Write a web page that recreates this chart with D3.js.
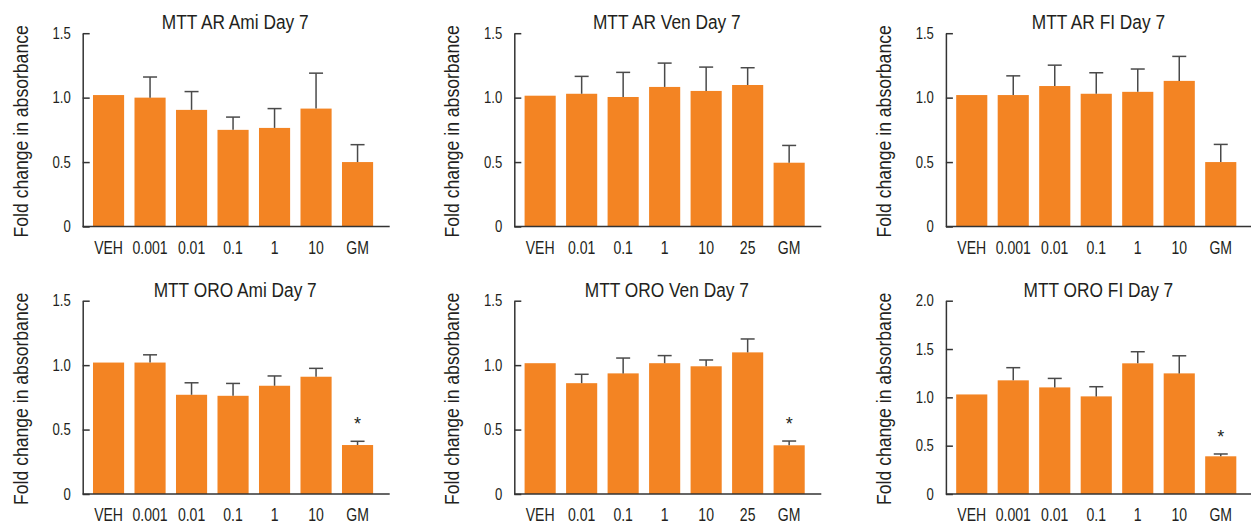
<!DOCTYPE html>
<html>
<head>
<meta charset="utf-8">
<script src="https://cdn.jsdelivr.net/npm/d3@7"></script>
<style>
  html, body { margin: 0; padding: 0; background: #fff; }
  svg { display: block; }
  text { font-family: "Liberation Sans", Arial, sans-serif; fill: #231f20; }
</style>
</head>
<body>
<svg id="chart" width="1251" height="524"></svg>
<script>
// ---- Data ----
const catsAmi = ["VEH", "0.001", "0.01", "0.1", "1", "10", "GM"];
const catsVen = ["VEH", "0.01", "0.1", "1", "10", "25", "GM"];
const catsFl  = ["VEH", "0.001", "0.01", "0.1", "1", "10", "GM"];

const titles = ["MTT AR Ami Day 7", "MTT AR Ven Day 7", "MTT AR FI Day 7",
                "MTT ORO Ami Day 7", "MTT ORO Ven Day 7", "MTT ORO FI Day 7"];

// mean values
const arAmiMean  = [1.02, 1.00, 0.905, 0.75, 0.765, 0.915, 0.50];
const arVenMean  = [1.015, 1.03, 1.005, 1.083, 1.052, 1.098, 0.495];
const arFlMean   = [1.02, 1.02, 1.09, 1.03, 1.045, 1.13, 0.50];
const oroAmiMean = [1.02, 1.02, 0.77, 0.762, 0.84, 0.91, 0.38];
const oroVenMean = [1.015, 0.86, 0.936, 1.015, 0.991, 1.099, 0.378];
const oroFlMean  = [1.03, 1.176, 1.103, 1.01, 1.352, 1.248, 0.39];

// upper end of error bars (null = no error bar)
const arAmiErr  = [null, 1.16, 1.047, 0.849, 0.915, 1.19, 0.635];
const arVenErr  = [null, 1.165, 1.196, 1.268, 1.237, 1.232, 0.629];
const arFlErr   = [null, 1.169, 1.252, 1.193, 1.222, 1.32, 0.637];
const oroAmiErr = [null, 1.08, 0.863, 0.858, 0.916, 0.975, 0.409];
const oroVenErr = [null, 0.929, 1.055, 1.074, 1.04, 1.203, 0.411];
const oroFlErr  = [null, 1.307, 1.196, 1.11, 1.472, 1.43, 0.414];

// significance markers
const oroAmiSig = ["", "", "", "", "", "", "*"];
const oroVenSig = ["", "", "", "", "", "", "*"];
const oroFlSig  = ["", "", "", "", "", "", "*"];
const noSig     = ["", "", "", "", "", "", ""];

const ticks15 = [0, 0.5, 1.0, 1.5];
const ticks20 = [0, 0.5, 1.0, 1.5, 2.0];

const yLabel = "Fold change in absorbance";

const panels = [
  {title: titles[0], cats: catsAmi, mean: arAmiMean, err: arAmiErr, sig: noSig, max: 1.5, ticks: ticks15},
  {title: titles[1], cats: catsVen, mean: arVenMean, err: arVenErr, sig: noSig, max: 1.5, ticks: ticks15},
  {title: titles[2], cats: catsFl,  mean: arFlMean,  err: arFlErr,  sig: noSig, max: 1.5, ticks: ticks15},
  {title: titles[3], cats: catsAmi, mean: oroAmiMean, err: oroAmiErr, sig: oroAmiSig, max: 1.5, ticks: ticks15},
  {title: titles[4], cats: catsVen, mean: oroVenMean, err: oroVenErr, sig: oroVenSig, max: 1.5, ticks: ticks15},
  {title: titles[5], cats: catsFl,  mean: oroFlMean,  err: oroFlErr,  sig: oroFlSig,  max: 2.0, ticks: ticks20}
];

// ---- Layout ----
const barColor = "#f38423";
const errColor = "#4a4a4a";
const axisColor = "#333";
const colX0 = 82.7, colStep = 431.6;
const rowZero = [226.5, 494.0];
const rowTop  = [33.2, 300.7];
const axisLen = 307;

// condensed look: squeeze glyphs horizontally
function condense(sel, f) {
  sel.each(function () {
    const L = this.getComputedTextLength();
    this.setAttribute("textLength", (L * f).toFixed(2));
    this.setAttribute("lengthAdjust", "spacingAndGlyphs");
  });
}

const svg = d3.select("#chart");

panels.forEach((p, i) => {
  const col = i % 3, row = Math.floor(i / 3);
  const ax = colX0 + col * colStep;
  const g = svg.append("g");

  const x = d3.scaleBand()
    .domain(p.cats)
    .range([ax + 5.1, ax + 5.1 + 290.5])
    .paddingInner(0.25)
    .paddingOuter(0.125);

  const y = d3.scaleLinear()
    .domain([0, p.max])
    .range([rowZero[row], rowTop[row]]);

  // bars
  g.selectAll("rect.bar")
    .data(p.cats)
    .join("rect")
    .attr("class", "bar")
    .attr("x", d => x(d))
    .attr("width", x.bandwidth())
    .attr("y", (d, j) => y(p.mean[j]))
    .attr("height", (d, j) => y(0) - y(p.mean[j]))
    .attr("fill", barColor);

  // error bars
  const errData = p.cats.map((c, j) => ({c, m: p.mean[j], e: p.err[j], s: p.sig[j]}))
    .filter(d => d.e !== null);
  const cap = 7;
  g.selectAll("line.errv")
    .data(errData)
    .join("line")
    .attr("x1", d => x(d.c) + x.bandwidth() / 2)
    .attr("x2", d => x(d.c) + x.bandwidth() / 2)
    .attr("y1", d => y(d.m))
    .attr("y2", d => y(d.e))
    .attr("stroke", errColor)
    .attr("stroke-width", 1.5);
  g.selectAll("line.errh")
    .data(errData)
    .join("line")
    .attr("x1", d => x(d.c) + x.bandwidth() / 2 - cap)
    .attr("x2", d => x(d.c) + x.bandwidth() / 2 + cap)
    .attr("y1", d => y(d.e))
    .attr("y2", d => y(d.e))
    .attr("stroke", errColor)
    .attr("stroke-width", 1.5);

  // significance
  g.selectAll("text.sig")
    .data(errData.filter(d => d.s))
    .join("text")
    .attr("x", d => x(d.c) + x.bandwidth() / 2)
    .attr("y", d => y(d.e) - 11)
    .attr("text-anchor", "middle")
    .attr("font-size", 18)
    .text(d => d.s);

  // y axis
  const yAxis = d3.axisRight(y)
    .tickValues(p.ticks)
    .tickSize(7)
    .tickSizeOuter(0)
    .tickFormat(d => d === 0 ? "0" : d3.format(".1f")(d));
  const ya = g.append("g").attr("transform", `translate(${ax},0)`).call(yAxis);
  ya.attr("font-family", null);
  ya.select(".domain").attr("stroke", axisColor).attr("stroke-width", 1.5);
  ya.selectAll(".tick line").attr("stroke", axisColor).attr("stroke-width", 1.5);
  ya.selectAll(".tick text")
    .attr("x", -12)
    .attr("text-anchor", "end")
    .attr("font-size", 16)
    .attr("fill", "#231f20");
  condense(ya.selectAll(".tick text"), 0.82);

  // x axis labels
  const xAxis = d3.axisBottom(x).tickSize(0).tickSizeOuter(0);
  const xa = g.append("g").attr("transform", `translate(0,${y(0)})`).call(xAxis);
  xa.attr("font-family", null);
  xa.select(".domain").remove();
  xa.selectAll(".tick text")
    .attr("font-size", 18)
    .attr("fill", "#231f20")
    .attr("dy", null)
    .attr("y", 27);
  condense(xa.selectAll(".tick text"), 0.78);

  // x axis line
  g.append("line")
    .attr("x1", ax).attr("x2", ax + axisLen)
    .attr("y1", y(0)).attr("y2", y(0))
    .attr("stroke", axisColor).attr("stroke-width", 1.5);

  // title
  const t = g.append("text")
    .attr("x", ax + axisLen / 2 - 1)
    .attr("y", rowTop[row] - 4)
    .attr("text-anchor", "middle")
    .attr("font-size", 20)
    .text(p.title);
  condense(t, 0.865);

  // y label (condensed via scale in the text's own direction)
  const cy = (rowZero[row] + rowTop[row]) / 2 + 1.5;
  g.append("text")
    .attr("transform", `translate(${ax - 55.2},${cy}) rotate(-90) scale(0.88,1)`)
    .attr("text-anchor", "middle")
    .attr("font-size", 20)
    .text(yLabel);
});
</script>
</body>
</html>
